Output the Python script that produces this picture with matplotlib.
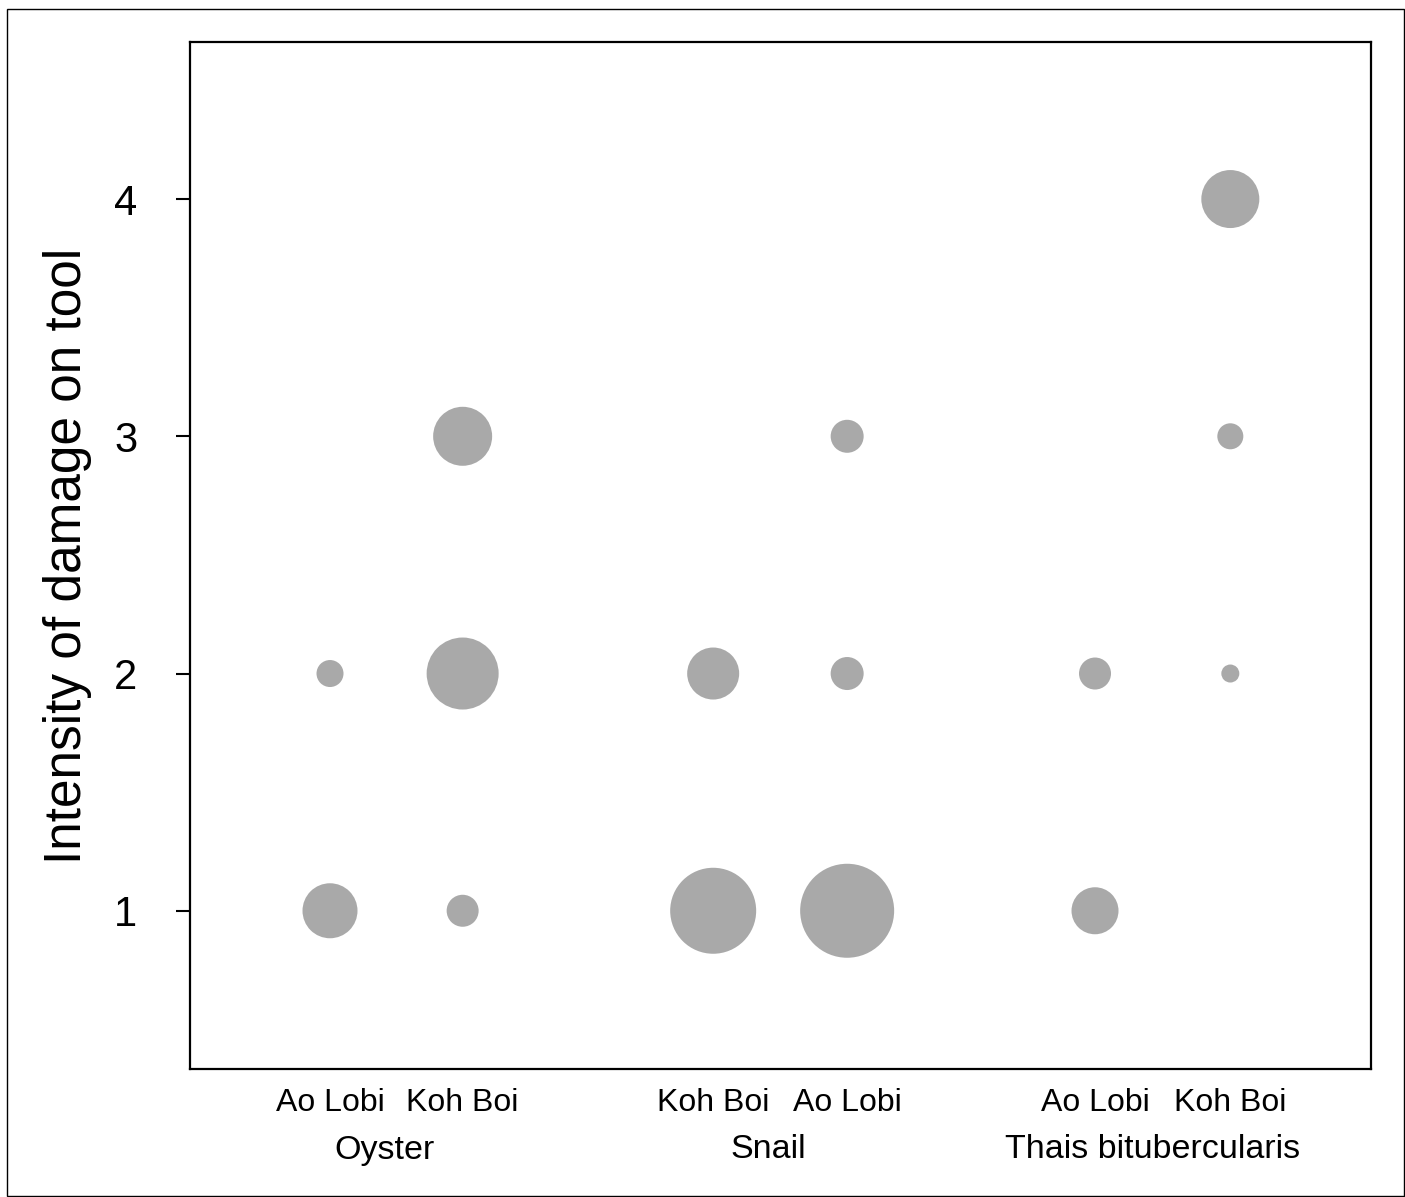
import matplotlib.pyplot as plt
import matplotlib.transforms as mtransforms
from matplotlib.patches import Rectangle

# --------------------------------------------------
# Data
# --------------------------------------------------

sites = ["Ao Lobi", "Koh Boi", "Koh Boi", "Ao Lobi", "Ao Lobi", "Koh Boi"]
site_x = [1.0, 1.99, 3.86, 4.86, 6.71, 7.72]

groups = ["Oyster", "Snail", "Thais bitubercularis"]
group_x = [1.41, 4.27, 7.14]

# one entry per bubble: column index, damage intensity, relative bubble size
col_idx = [0, 0, 1, 1, 1, 2, 2, 3, 3, 3, 4, 4, 5, 5, 5]
intensity = [2, 1, 3, 2, 1, 2, 1, 3, 2, 1, 2, 1, 4, 3, 2]
bubble = [13.5, 27.5, 29.5, 36, 16, 26, 43, 16.5, 16.5, 47, 16, 23.5, 29, 13, 9]

# --------------------------------------------------
# Plot
# --------------------------------------------------

plt.rcParams["font.family"] = ["Liberation Sans", "DejaVu Sans"]

fig = plt.figure(figsize=(14.05, 11.97), dpi=100)
ax = fig.add_axes([190 / 1405, 1 - 1069 / 1197, 1181 / 1405, 1027 / 1197])

xs = [site_x[i] for i in col_idx]
# bubble value -> marker area (points^2)
areas = [(2 * b * 0.72) ** 2 for b in bubble]

ax.scatter(xs, intensity, s=areas, color="#a9a9a9", edgecolors="none", zorder=2)

ax.set_xlim(-0.045, 8.77)
ax.set_ylim(0.333, 4.662)

ax.set_yticks([1, 2, 3, 4])
ax.tick_params(axis="y", labelsize=30, length=10, width=1.5, pad=28)
ax.set_xticks(site_x)
ax.set_xticklabels(sites)
ax.tick_params(axis="x", labelsize=23, length=0, pad=14)

ax.set_ylabel("Intensity of damage on tool", fontsize=37, labelpad=16)

for spine in ax.spines.values():
    spine.set_linewidth(1.6)

# ---------- group labels ----------
trans = mtransforms.blended_transform_factory(ax.transData, fig.transFigure)
for gx, g in zip(group_x, groups):
    ax.text(gx, 1 - 1150 / 1197, g, transform=trans, ha="center",
            va="center", fontsize=24.5)

# ---------- outer border ----------
fig.patches.append(Rectangle((7 / 1405, 1 / 1197), 1397 / 1405, 1187 / 1197,
                             transform=fig.transFigure, fill=False,
                             edgecolor="black", linewidth=1))

fig.savefig("out.png", dpi=100)
plt.close(fig)
